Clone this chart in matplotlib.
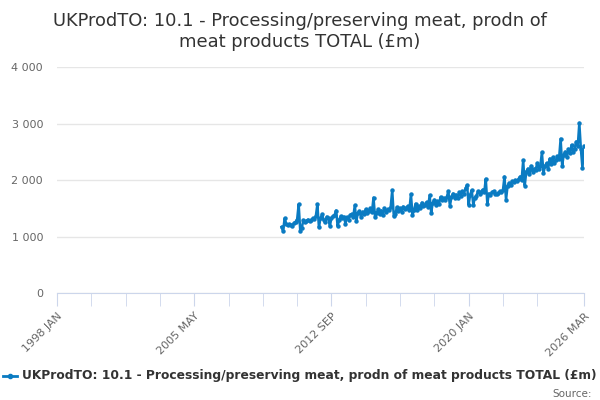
import numpy as np
import matplotlib
matplotlib.use("Agg")
import matplotlib.pyplot as plt
from matplotlib.ticker import FuncFormatter

# monthly values (£m), Jan 2010 .. Mar 2026
v2010 = [1170, 1100, 1320, 1230, 1200, 1220, 1210, 1190, 1240, 1260, 1300, 1570]
v2011 = [1100, 1150, 1290, 1260, 1280, 1300, 1270, 1290, 1320, 1310, 1360, 1570]
v2012 = [1160, 1330, 1390, 1300, 1250, 1350, 1320, 1180, 1330, 1360, 1380, 1460]
v2013 = [1180, 1300, 1360, 1320, 1350, 1230, 1340, 1300, 1380, 1400, 1350, 1550]
v2014 = [1280, 1420, 1450, 1350, 1440, 1400, 1480, 1420, 1460, 1500, 1430, 1690]
v2015 = [1340, 1420, 1480, 1400, 1460, 1380, 1500, 1440, 1480, 1470, 1520, 1820]
v2016 = [1360, 1400, 1520, 1450, 1500, 1440, 1530, 1480, 1510, 1540, 1470, 1750]
v2017 = [1380, 1470, 1580, 1470, 1540, 1500, 1600, 1540, 1560, 1610, 1520, 1730]
v2018 = [1420, 1600, 1650, 1560, 1620, 1580, 1700, 1650, 1680, 1640, 1700, 1800]
v2019 = [1540, 1700, 1760, 1680, 1740, 1690, 1780, 1720, 1800, 1760, 1850, 1910]
v2020 = [1560, 1740, 1820, 1560, 1690, 1720, 1800, 1760, 1790, 1830, 1780, 2020]
v2021 = [1580, 1760, 1740, 1780, 1800, 1760, 1750, 1770, 1800, 1790, 1820, 2060]
v2022 = [1650, 1900, 1950, 1920, 1980, 1960, 2000, 1980, 2020, 2060, 2000, 2350]
v2023 = [1900, 2150, 2200, 2100, 2250, 2150, 2200, 2180, 2300, 2200, 2250, 2490]
v2024 = [2120, 2250, 2300, 2200, 2380, 2280, 2400, 2300, 2350, 2420, 2380, 2730]
v2025 = [2250, 2450, 2500, 2400, 2550, 2480, 2620, 2500, 2550, 2680, 2600, 3010]
v2026 = [2550, 2210, 2600]

values = (v2010 + v2011 + v2012 + v2013 + v2014 + v2015 + v2016 + v2017 + v2018
          + v2019 + v2020 + v2021 + v2022 + v2023 + v2024 + v2025 + v2026)

# category axis: months from 1998 JAN (index 0) to 2026 MAR (index 338)
first_month = 144  # 2010 JAN
tick_labels = ["1998 JAN", "2005 MAY", "2012 SEP", "2020 JAN", "2026 MAR"]
tick_pos = [0, 88, 176, 264, 338]
minor_pos = [22, 44, 66, 110, 132, 154, 198, 220, 242, 286, 308]

series_name = "UKProdTO: 10.1 - Processing/preserving meat, prodn of meat products TOTAL (£m)"
title = "UKProdTO: 10.1 - Processing/preserving meat, prodn of\nmeat products TOTAL (£m)"

blue = "#0a7bc2"
grey = "#666666"

fig = plt.figure(figsize=(6, 4), dpi=100)
ax = fig.add_axes([57 / 600, 1 - 293 / 400, 527 / 600, 226 / 400])

x = first_month + np.arange(len(values))
ax.plot(x, values, color=blue, lw=1.8, marker="o", ms=2.2, zorder=3)

ax.set_xlim(0, 338)
ax.set_ylim(0, 4000)
ax.set_yticks([0, 1000, 2000, 3000, 4000])
ax.yaxis.set_major_formatter(FuncFormatter(lambda v, p: f"{int(v):,}".replace(",", " ")))
ax.grid(axis="y", color="#e6e6e6", lw=1)
ax.set_axisbelow(True)

ax.set_xticks(tick_pos)
ax.set_xticklabels(tick_labels, rotation=45, ha="right", rotation_mode="anchor")
ax.set_xticks(minor_pos, minor=True)
ax.tick_params(axis="x", which="both", length=9, color="#ccd6eb", labelcolor=grey,
               labelsize=8, pad=4)
ax.tick_params(axis="y", length=0, labelcolor=grey, labelsize=8, pad=10)

for s in ["top", "right", "left"]:
    ax.spines[s].set_visible(False)
ax.spines["bottom"].set_color("#ccd6eb")

fig.text(0.5, 0.97, title, ha="center", va="top", fontsize=12.9, color="#333333",
         linespacing=1.2)

# legend row
leg_y = 1 - 376 / 400
fig.add_artist(plt.Line2D([3 / 600, 10 / 600, 17 / 600], [leg_y] * 3, transform=fig.transFigure,
                          color=blue, lw=2, marker="o", ms=3, markevery=[1]))
fig.text(22 / 600, leg_y, series_name, ha="left", va="center", fontsize=8.8,
         fontweight="bold", color="#333333")
fig.text(592 / 600, 1 - 394 / 400, "Source:", ha="right", va="center", fontsize=7.5,
         color=grey)

fig.savefig("out.png", dpi=100)
